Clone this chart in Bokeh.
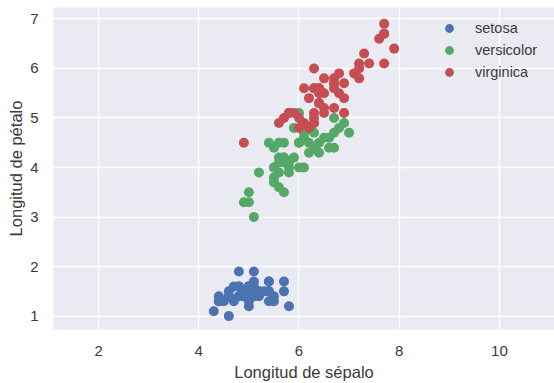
from bokeh.plotting import figure
from bokeh.models import Legend, LegendItem, FixedTicker
from bokeh.embed import file_html
from bokeh.resources import INLINE

species = ["setosa", "versicolor", "virginica"]
colors = ["#4C72B0", "#55A868", "#C44E52"]

setosa_sepal = [5.1, 4.9, 4.7, 4.6, 5.0, 5.4, 4.6, 5.0, 4.4, 4.9, 5.4, 4.8, 4.8, 4.3, 5.8, 5.7, 5.4, 5.1, 5.7, 5.1,
                5.4, 5.1, 4.6, 5.1, 4.8, 5.0, 5.0, 5.2, 5.2, 4.7, 4.8, 5.4, 5.2, 5.5, 4.9, 5.0, 5.5, 4.9, 4.4, 5.1,
                5.0, 4.5, 4.4, 5.0, 5.1, 4.8, 5.1, 4.6, 5.3, 5.0]
setosa_petal = [1.4, 1.4, 1.3, 1.5, 1.4, 1.7, 1.4, 1.5, 1.4, 1.5, 1.5, 1.6, 1.4, 1.1, 1.2, 1.5, 1.3, 1.4, 1.7, 1.5,
                1.7, 1.5, 1.0, 1.7, 1.9, 1.6, 1.6, 1.5, 1.4, 1.6, 1.6, 1.5, 1.5, 1.4, 1.5, 1.2, 1.3, 1.4, 1.3, 1.5,
                1.3, 1.3, 1.3, 1.6, 1.9, 1.4, 1.6, 1.4, 1.5, 1.4]
versicolor_sepal = [7.0, 6.4, 6.9, 5.5, 6.5, 5.7, 6.3, 4.9, 6.6, 5.2, 5.0, 5.9, 6.0, 6.1, 5.6, 6.7, 5.6, 5.8, 6.2, 5.6,
                    5.9, 6.1, 6.3, 6.1, 6.4, 6.6, 6.8, 6.7, 6.0, 5.7, 5.5, 5.5, 5.8, 6.0, 5.4, 6.0, 6.7, 6.3, 5.6, 5.5,
                    5.5, 6.1, 5.8, 5.0, 5.6, 5.7, 5.7, 6.2, 5.1, 5.7]
versicolor_petal = [4.7, 4.5, 4.9, 4.0, 4.6, 4.5, 4.7, 3.3, 4.6, 3.9, 3.5, 4.2, 4.0, 4.7, 3.6, 4.4, 4.5, 4.1, 4.5, 3.9,
                    4.8, 4.0, 4.9, 4.7, 4.3, 4.4, 4.8, 5.0, 4.5, 3.5, 3.8, 3.7, 3.9, 5.1, 4.5, 4.5, 4.7, 4.4, 4.1, 4.0,
                    4.4, 4.6, 4.0, 3.3, 4.2, 4.2, 4.2, 4.3, 3.0, 4.1]
virginica_sepal = [6.3, 5.8, 7.1, 6.3, 6.5, 7.6, 4.9, 7.3, 6.7, 7.2, 6.5, 6.4, 6.8, 5.7, 5.8, 6.4, 6.5, 7.7, 7.7, 6.0,
                   6.9, 5.6, 7.7, 6.3, 6.7, 7.2, 6.2, 6.1, 6.4, 7.2, 7.4, 7.9, 6.4, 6.3, 6.1, 7.7, 6.3, 6.4, 6.0, 6.9,
                   6.7, 6.9, 5.8, 6.8, 6.7, 6.7, 6.3, 6.5, 6.2, 5.9]
virginica_petal = [6.0, 5.1, 5.9, 5.6, 5.8, 6.6, 4.5, 6.3, 5.8, 6.1, 5.1, 5.3, 5.5, 5.0, 5.1, 5.3, 5.5, 6.7, 6.9, 5.0,
                   5.7, 4.9, 6.7, 4.9, 5.7, 6.0, 4.8, 4.9, 5.6, 5.8, 6.1, 6.4, 5.6, 5.1, 5.6, 6.1, 5.6, 5.5, 4.8, 5.4,
                   5.6, 5.1, 5.1, 5.9, 5.7, 5.2, 5.0, 5.2, 5.4, 5.1]

x_ticks = [2, 4, 6, 8, 10]
y_ticks = [1, 2, 3, 4, 5, 6, 7]

sepal = [setosa_sepal, versicolor_sepal, virginica_sepal]
petal = [setosa_petal, versicolor_petal, virginica_petal]

FONT = "Liberation Sans"
TXT = "#3a3a3a"

p = figure(width=554, height=383, x_range=(1.1, 11.1), y_range=(0.73, 7.23),
           output_backend="svg", toolbar_location=None)
p.min_border_left = 53
p.min_border_right = 0
p.min_border_top = 7
p.min_border_bottom = 52
p.background_fill_color = "#EAEAF2"
p.border_fill_color = "white"
p.outline_line_color = None

items = []
for name, c, xs, ys in zip(species, colors, sepal, petal):
    r = p.scatter(xs, ys, size=10, fill_color=c, line_color=c, line_width=0)
    items.append(LegendItem(label=name, renderers=[r]))

for ax in (p.xaxis[0], p.yaxis[0]):
    ax.axis_line_color = None
    ax.major_tick_line_color = None
    ax.minor_tick_line_color = None
    ax.major_label_text_font = FONT
    ax.major_label_text_font_size = "15px"
    ax.major_label_text_color = TXT
    ax.axis_label_text_font = FONT
    ax.axis_label_text_font_size = "16.5px"
    ax.axis_label_text_font_style = "normal"
    ax.axis_label_text_color = TXT

p.xaxis.major_label_standoff = 10
p.yaxis.major_label_standoff = 9
p.xaxis.ticker = FixedTicker(ticks=x_ticks)
p.yaxis.ticker = FixedTicker(ticks=y_ticks)
p.xaxis.axis_label = "Longitud de sépalo"
p.yaxis.axis_label = "Longitud de pétalo"
p.xaxis.axis_label_standoff = 4
p.yaxis.axis_label_standoff = 2

p.xgrid.ticker = FixedTicker(ticks=x_ticks)
p.ygrid.ticker = FixedTicker(ticks=y_ticks)
for g in (p.xgrid[0], p.ygrid[0]):
    g.grid_line_color = "white"
    g.grid_line_width = 1.4

legend = Legend(items=items, location=(385, 246))
legend.background_fill_alpha = 0
legend.border_line_color = None
legend.padding = 0
legend.margin = 0
legend.spacing = 0
legend.label_height = 22
legend.glyph_height = 22
legend.glyph_width = 22
legend.label_standoff = 15
legend.label_text_font = FONT
legend.label_text_font_size = "14.5px"
legend.label_text_color = TXT
p.add_layout(legend, "center")

open("out.html", "w").write(file_html(p, INLINE))
